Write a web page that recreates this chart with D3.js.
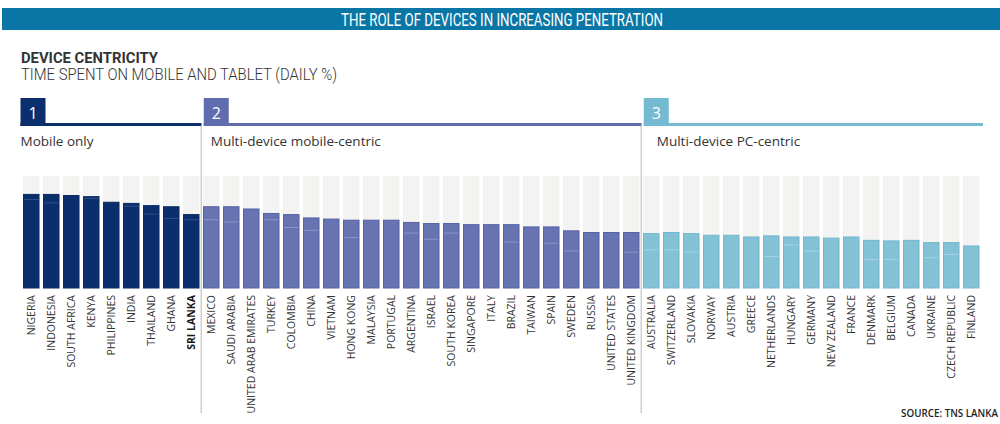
<!DOCTYPE html>
<html>
<head>
<meta charset="utf-8">
<script src="https://cdn.jsdelivr.net/npm/d3@7"></script>
<style>
  html, body { margin: 0; padding: 0; background: #fff; }
  svg { display: block; }
</style>
</head>
<body>
<svg id="chart" width="1000" height="424"></svg>
<script>
// ---------------- DATA ----------------
const titleText = "THE ROLE OF DEVICES IN INCREASING PENETRATION";
const headingText = "DEVICE CENTRICITY";
const subheadingText = "TIME SPENT ON MOBILE AND TABLET (DAILY %)";
const sourceText = "SOURCE: TNS LANKA";

const groupNumbers = ["1", "2", "3"];
const groupNames = ["Mobile only", "Multi-device mobile-centric", "Multi-device PC-centric"];

const group1Countries = ["NIGERIA", "INDONESIA", "SOUTH AFRICA", "KENYA", "PHILIPPINES", "INDIA", "THAILAND", "GHANA", "SRI LANKA"];
const group2Countries = ["MEXICO", "SAUDI ARABIA", "UNITED ARAB EMIRATES", "TURKEY", "COLOMBIA", "CHINA", "VIETNAM", "HONG KONG", "MALAYSIA", "PORTUGAL", "ARGENTINA", "ISRAEL", "SOUTH KOREA", "SINGAPORE", "ITALY", "BRAZIL", "TAIWAN", "SPAIN", "SWEDEN", "RUSSIA", "UNITED STATES", "UNITED KINGDOM"];
const group3Countries = ["AUSTRALIA", "SWITZERLAND", "SLOVAKIA", "NORWAY", "AUSTRIA", "GREECE", "NETHERLANDS", "HUNGARY", "GERMANY", "NEW ZEALAND", "FRANCE", "DENMARK", "BELGIUM", "CANADA", "UKRAINE", "CZECH REPUBLIC", "FINLAND"];

// total share of daily time on mobile + tablet (%)
const group1Values = [84, 84, 83, 82, 77, 76, 74, 73, 66];
const group2Values = [73, 73, 71, 67, 66, 63, 62, 61, 61, 61, 59, 58, 58, 57, 57, 57, 55, 55, 51.5, 50, 50, 50];
const group3Values = [49, 50, 49, 47.5, 47.5, 46, 47, 46, 46, 45, 46, 43, 42.5, 43, 41, 41, 38];

// faint split line inside each bar (%), null where none is visible
const group1Split = [79, 76, null, 80, null, 73, 66, 62, 61];
const group2Split = [61, 59, null, 61, 54, 51.5, null, 45, null, null, 49, 43.5, 49, null, null, 41, null, 40, 33, null, null, 32];
const group3Split = [34, 34, 32, null, null, null, 28, 38.5, 33, null, null, 25.5, 25.5, null, 27, 30, null];

const highlightCountry = "SRI LANKA";

// ---------------- STYLE ----------------
const groupFill = ["#0b2f6c", "#6774b1", "#82c1d6"];
const groupStroke = ["#0a2a62", "#5663a9", "#72b7cf"];
const groupSplitColor = ["#2f508a", "#8a94c9", "#a6d3e2"];
const headerColor = ["#0b2f6c", "#5f6cae", "#74bbd2"];
const bgBarColor = "#f3f3f1";
const titleBarColor = "#0a76a6";
const textColor = "#333333";

// ---------------- BUILD ----------------
const groupCountries = [group1Countries, group2Countries, group3Countries];
const groupValues = [group1Values, group2Values, group3Values];
const groupSplits = [group1Split, group2Split, group3Split];

const rows = [];
groupCountries.forEach((list, g) => {
  list.forEach((c, i) => rows.push({ country: c, group: g, value: groupValues[g][i], split: groupSplits[g][i] }));
});

const svg = d3.select("#chart");

const x = d3.scaleBand()
  .domain(rows.map(d => d.country))
  .range([21.25, 981.25])
  .paddingInner(0.175)
  .paddingOuter(0.0875);

const y = d3.scaleLinear().domain([0, 100]).range([288, 176]);
const bw = x.bandwidth();

// Title bar
svg.append("rect").attr("x", 2).attr("y", 8).attr("width", 998).attr("height", 22).attr("fill", titleBarColor);
svg.append("text")
  .attr("x", 502).attr("y", 25.5)
  .attr("text-anchor", "middle")
  .attr("fill", "#fff")
  .attr("font-family", "Roboto, 'Open Sans', sans-serif")
  .attr("font-size", 17.5)
  .attr("textLength", 322).attr("lengthAdjust", "spacingAndGlyphs")
  .text(titleText);

svg.append("text")
  .attr("x", 21).attr("y", 63)
  .attr("fill", textColor)
  .attr("font-family", "Roboto, 'Open Sans', sans-serif")
  .attr("font-weight", "bold")
  .attr("font-size", 15)
  .attr("textLength", 137).attr("lengthAdjust", "spacingAndGlyphs")
  .text(headingText);

svg.append("text")
  .attr("x", 21).attr("y", 80)
  .attr("fill", textColor)
  .attr("font-family", "Roboto, 'Open Sans', sans-serif")
  .attr("font-weight", 300)
  .attr("font-size", 16)
  .attr("textLength", 316).attr("lengthAdjust", "spacingAndGlyphs")
  .text(subheadingText);

// Group separators and headers
const firstOf = groupCountries.map(l => l[0]);
const lastOf = groupCountries.map(l => l[l.length - 1]);
const separators = [0, 1].map(g => (x(lastOf[g]) + bw + x(firstOf[g + 1])) / 2);

svg.selectAll("line.sep").data(separators).enter().append("line")
  .attr("class", "sep")
  .attr("x1", d => d).attr("x2", d => d)
  .attr("y1", 123).attr("y2", 413)
  .attr("stroke", "#cfcfcf").attr("stroke-width", 1.5);

const labelOffsets = [0, 7, 13];
groupNames.forEach((name, g) => {
  const left = g === 0 ? x(firstOf[0]) - 2.5 : separators[g - 1] + 2.5;
  const right = g < 2 ? separators[g] : x(lastOf[2]) + bw + 3.5;
  const gEl = svg.append("g");
  gEl.append("rect").attr("x", left).attr("y", 98).attr("width", 25).attr("height", 28).attr("fill", headerColor[g]);
  gEl.append("rect").attr("x", left).attr("y", 123).attr("width", right - left).attr("height", 3).attr("fill", headerColor[g]);
  gEl.append("text")
    .attr("x", left + 12.5).attr("y", 118.5)
    .attr("text-anchor", "middle")
    .attr("fill", "#fff")
    .attr("font-family", "'Open Sans', sans-serif")
    .attr("font-size", 16)
    .text(groupNumbers[g]);
  gEl.append("text")
    .attr("x", left + labelOffsets[g]).attr("y", 146)
    .attr("fill", textColor)
    .attr("font-family", "'Open Sans', sans-serif")
    .attr("font-size", 13.5)
    .text(name);
});

// Background bars
svg.append("g").selectAll("rect").data(rows).enter().append("rect")
  .attr("x", d => x(d.country)).attr("width", bw)
  .attr("y", y(100)).attr("height", y(0) - y(100))
  .attr("fill", bgBarColor);

// Value bars
svg.append("g").selectAll("rect").data(rows).enter().append("rect")
  .attr("x", d => x(d.country) + 0.5).attr("width", bw - 1)
  .attr("y", d => y(d.value) + 0.5).attr("height", d => y(0) - y(d.value) - 0.5)
  .attr("fill", d => groupFill[d.group])
  .attr("stroke", d => groupStroke[d.group]).attr("stroke-width", 1);

// Split lines
svg.append("g").selectAll("line").data(rows.filter(d => d.split != null)).enter().append("line")
  .attr("x1", d => x(d.country) + 1).attr("x2", d => x(d.country) + bw - 1)
  .attr("y1", d => y(d.split)).attr("y2", d => y(d.split))
  .attr("stroke", d => groupSplitColor[d.group]).attr("stroke-width", 1);

// Country labels
svg.append("g").selectAll("text").data(rows).enter().append("text")
  .attr("transform", d => `translate(${x(d.country) + bw / 2},295) rotate(-90)`)
  .attr("dy", "0.4em")
  .attr("text-anchor", "end")
  .attr("fill", d => d.country === highlightCountry ? "#1a1a1a" : textColor)
  .attr("font-family", "'Open Sans', sans-serif")
  .attr("font-weight", d => d.country === highlightCountry ? "bold" : "normal")
  .attr("font-size", 10.5)
  .text(d => d.country);

// Source
svg.append("text")
  .attr("x", 998).attr("y", 417)
  .attr("text-anchor", "end")
  .attr("fill", "#222")
  .attr("font-family", "'Open Sans', sans-serif")
  .attr("font-weight", 600)
  .attr("font-size", 9.8)
  .text(sourceText);
</script>
</body>
</html>
